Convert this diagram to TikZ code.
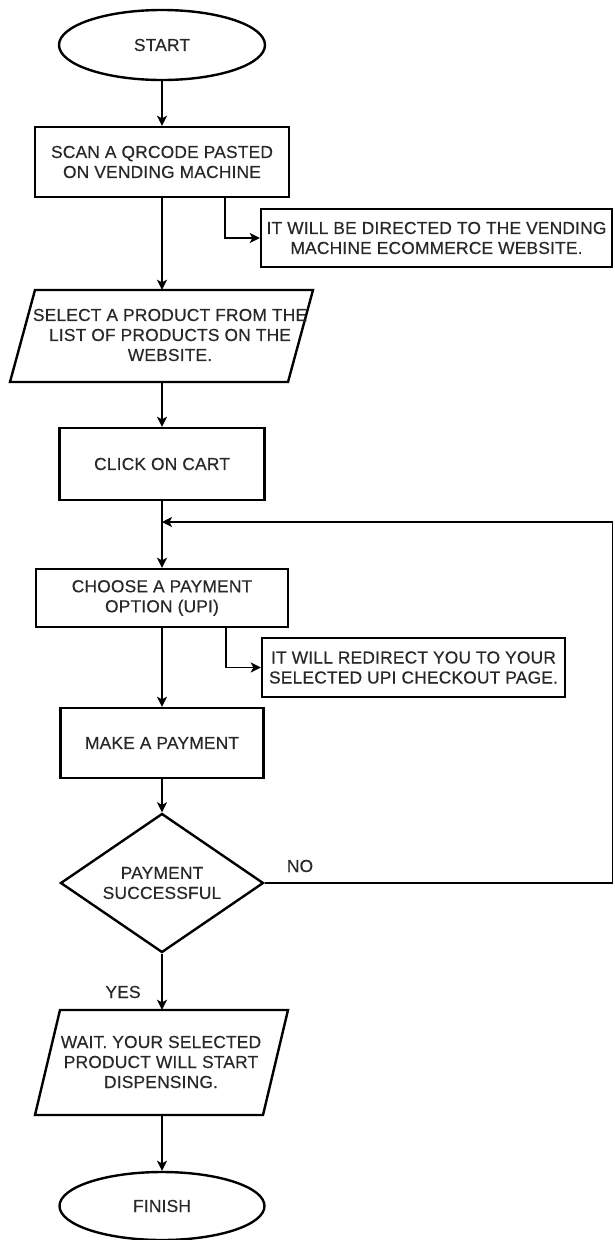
\documentclass[tikz,border=0pt]{standalone}
\usepackage{fontspec}
\setmainfont{Liberation Sans}[FakeBold=0.35,LetterSpace=1]
\usetikzlibrary{shapes.geometric,arrows.meta,calc}
\definecolor{txt}{RGB}{40,40,40}
\newcommand\flowfont{\fontsize{17.4}{20}\selectfont}
\tikzset{
  shp/.style={draw=black, line width=2.4pt, line join=miter},
  box/.style={shp, fill=white, text=txt, font=\flowfont, align=center, inner sep=0pt},
  term/.style={box, ellipse},
  ghost/.style={inner sep=0pt},
  lbl/.style={text=txt, font=\flowfont, align=center, inner sep=0pt},
  conn/.style={line width=1.9pt, -{Stealth[length=10pt,width=10pt,inset=2.5pt]}}
}
\begin{document}
\begin{tikzpicture}[x=1pt,y=-1pt]
\useasboundingbox[fill=white] (0,0) rectangle (614,1240);

% terminals and boxes
\node[term, minimum width=206pt, minimum height=70pt] (start) at (162,45) {START};
\node[box, minimum width=254pt, minimum height=70pt] (scan) at (162,162) {SCAN A QRCODE PASTED\\ON VENDING MACHINE};
\node[box, minimum width=351pt, minimum height=58pt] (info1) at (436.5,238) {IT WILL BE DIRECTED TO THE VENDING\\MACHINE ECOMMERCE WEBSITE.};

% select parallelogram
\node[ghost, minimum width=250pt, minimum height=92pt] (select) at (162,336) {};
\draw[shp, fill=white] (35,290) -- (313,290) -- (288,382) -- (10,382) -- cycle;
\node[lbl] (selecttxt) at (170,335) {SELECT A PRODUCT FROM THE\\LIST OF PRODUCTS ON THE\\WEBSITE.};

\node[box, minimum width=205pt, minimum height=72pt] (cart) at (162,464) {CLICK ON CART};
\node[box, minimum width=252pt, minimum height=58pt] (choose) at (162,598) {CHOOSE A PAYMENT\\OPTION (UPI)};
\node[box, minimum width=303pt, minimum height=59pt] (info2) at (413.5,667.5) {IT WILL REDIRECT YOU TO YOUR\\SELECTED UPI CHECKOUT PAGE.};
\node[box, minimum width=203pt, minimum height=70pt] (pay) at (162,743) {MAKE A PAYMENT};
\node[box, diamond, aspect=1.46, minimum width=203pt, minimum height=139pt] (dec) at (162,883) {PAYMENT\\SUCCESSFUL};

% wait parallelogram
\node[ghost, minimum width=228pt, minimum height=105pt] (wait) at (162,1062.5) {};
\draw[shp, fill=white] (60,1010) -- (288,1010) -- (263,1115) -- (35,1115) -- cycle;
\node[lbl] (waittxt) at (161,1062) {WAIT. YOUR SELECTED\\PRODUCT WILL START\\DISPENSING.};

\node[term, minimum width=205pt, minimum height=68pt] (finish) at (162,1206) {FINISH};

% labels
\node[lbl] (nolbl) at (300,866) {NO};
\node[lbl] (yeslbl) at (123,992) {YES};

% loop coordinates
\coordinate (looptop) at (612.5,522);
\coordinate (loopin) at (162,522);

% connectors
\draw[conn] (start.south) -- (scan.north);
\draw[conn] (scan.south) -- (select.north);
\draw[conn] ([xshift=63pt]scan.south) |- (info1.west);
\draw[conn] (select.south) -- (cart.north);
\draw[conn] (cart.south) -- (choose.north);
\draw[conn] ([xshift=64pt]choose.south) |- (info2.west);
\draw[conn] (choose.south) -- (pay.north);
\draw[conn] (pay.south) -- (dec.north);
\draw[conn] (dec.east) -| (looptop) -- (loopin);
\draw[conn] (dec.south) -- (wait.north);
\draw[conn] (wait.south) -- (finish.north);
\end{tikzpicture}
\end{document}
